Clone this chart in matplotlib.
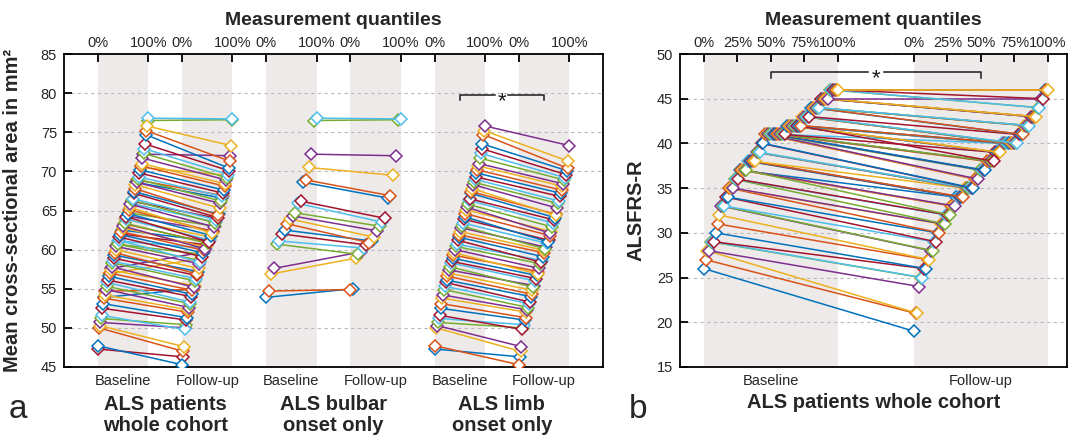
import matplotlib
matplotlib.use('Agg')
import matplotlib.pyplot as plt
import numpy as np
from matplotlib.transforms import blended_transform_factory

plt.rcParams['font.family'] = ['Liberation Sans', 'DejaVu Sans']

# ---------------- data ----------------
# Mean cross-sectional area (mm^2), bulbar onset patients
bulbar_base = [53.9, 54.7, 56.9, 57.6, 60.7, 61.1, 62.0, 62.5, 63.3, 63.9,
               64.3, 64.7, 65.9, 66.2, 68.6, 68.9, 70.5, 72.2, 76.5, 76.8]
bulbar_fu = [55.0, 54.9, 58.9, 59.7, 59.4, 60.2, 60.6, 61.1, 60.9, 61.6,
             62.4, 63.0, 63.5, 64.0, 66.6, 66.9, 69.5, 72.0, 76.6, 76.7]

# limb onset patients
limb_base = [47.3, 47.7, 50.0, 50.3, 50.7, 51.2, 51.6, 52.5, 53.1, 53.8,
             54.2, 54.9, 55.3, 55.8, 56.1, 56.6, 57.0, 57.4, 57.8, 58.3,
             58.5, 58.9, 59.3, 59.6, 60.0, 60.4, 60.7, 61.2, 61.6, 61.9,
             62.3, 62.8, 63.0, 63.4, 63.9, 64.2, 64.6, 65.1, 65.4, 65.8,
             66.3, 66.5, 67.2, 67.4, 67.8, 68.3, 68.6, 69.0, 69.3, 69.8,
             70.2, 70.7, 71.0, 71.7, 72.3, 72.9, 73.5, 74.7, 75.2, 75.8]
limb_fu = [46.3, 45.3, 47.0, 47.6, 50.0, 50.4, 49.8, 51.0, 51.3, 52.0,
           52.3, 52.6, 53.1, 53.3, 54.0, 54.3, 54.8, 55.4, 55.2, 56.0,
           56.3, 56.7, 57.2, 56.9, 57.6, 58.2, 58.6, 58.4, 59.1, 59.6,
           59.9, 60.3, 60.1, 60.8, 61.2, 61.0, 61.8, 62.3, 62.1, 62.9,
           63.4, 63.8, 64.1, 64.5, 64.4, 65.3, 65.9, 66.2, 66.8, 67.2,
           67.6, 68.1, 68.4, 68.9, 69.2, 69.6, 70.1, 70.4, 71.3, 73.3]

# ALSFRS-R, whole cohort
alsfrs_base = [26, 27, 28, 28, 29, 29, 29, 30, 31, 32,
               33, 33, 33, 34, 34, 35, 35, 35, 36, 36,
               36, 37, 37, 37, 37, 37, 38, 38, 38, 38,
               38, 39, 39, 39, 40, 40, 41, 41, 41, 41,
               41, 41, 41, 41, 41, 41, 41, 41, 41, 42,
               42, 42, 42, 42, 42, 42, 42, 42, 43, 43,
               43, 43, 43, 44, 44, 44, 44, 44, 44, 45,
               45, 45, 45, 45, 46, 46, 46, 46, 46, 46]
alsfrs_fu = [19, 21, 21, 24, 25, 25, 26, 26, 27, 27,
             28, 28, 29, 29, 30, 30, 31, 31, 31, 32,
             32, 34, 33, 33, 33, 32, 34, 34, 34, 34,
             35, 35, 35, 35, 35, 35, 36, 36, 36, 37,
             37, 37, 37, 38, 38, 38, 38, 40, 39, 39,
             39, 39, 40, 40, 40, 38, 40, 40, 40, 40,
             40, 40, 41, 41, 41, 42, 42, 42, 42, 43,
             43, 43, 43, 45, 44, 44, 45, 46, 46, 46]

group_labels = ['ALS patients\nwhole cohort', 'ALS bulbar\nonset only', 'ALS limb\nonset only']
time_labels = ['Baseline', 'Follow-up']
left_ticks = ['0%', '100%']
right_ticks = ['0%', '25%', '50%', '75%', '100%']

whole_base = bulbar_base + limb_base
whole_fu = bulbar_fu + limb_fu

# ---------------- style ----------------
COLORS = ['#0072BD', '#D95319', '#EDB120', '#7E2F8E', '#77AC30', '#4DBEEE', '#A2142F']
SHADE = '#EEEAEA'
TXT = '#262626'
W, H = 1077, 437


def qpos(values, start):
    v = np.asarray(values, dtype=float)
    n = len(v)
    order = np.argsort(v, kind='stable')
    ranks = np.empty(n)
    ranks[order] = np.arange(n)
    return start + ranks / (n - 1)


def draw_pairs(ax, b, f, sb, sf):
    xb = qpos(b, sb)
    xf = qpos(f, sf)
    for i in range(len(b)):
        c = COLORS[i % len(COLORS)]
        ax.plot([xb[i], xf[i]], [b[i], f[i]], '-', color=c, lw=1.1,
                marker='D', ms=6, mfc='white', mec=c, mew=1.1, zorder=3)


def style_axes(ax):
    for s in ax.spines.values():
        s.set_linewidth(1.3)
        s.set_color('black')
    ax.yaxis.grid(True, ls=(0, (3, 3)), color='#b8b8b8', lw=0.8)
    ax.set_axisbelow(True)
    ax.xaxis.tick_top()
    ax.xaxis.set_label_position('top')
    ax.tick_params(axis='x', which='both', direction='in', length=6, width=1.3,
                   pad=3, labelsize=10.5, labelcolor=TXT, color='black',
                   bottom=False, top=True)
    ax.tick_params(axis='y', direction='in', length=6, width=1.3, pad=5,
                   labelsize=10.5, labelcolor=TXT, color='black')


def bracket(ax, x0, x1, ym, yt, hg):
    mid = (x0 + x1) / 2
    ax.plot([x0, x0, mid - hg], [yt, ym, ym], color='#1a1a1a', lw=1.1, zorder=4)
    ax.plot([mid + hg, x1, x1], [ym, ym, yt], color='#1a1a1a', lw=1.1, zorder=4)
    ax.annotate('*', (mid, ym), xytext=(0, -8.5), textcoords='offset points',
                ha='center', va='baseline', fontsize=16, color='#1a1a1a')


fig = plt.figure(figsize=(W / 100, H / 100), dpi=100)

# ---------------- panel a ----------------
axL = fig.add_axes([64 / W, (H - 367) / H, 539 / W, 313 / H])
gap = 0.669
starts = [gap + k * (1 + gap) for k in range(6)]
for s in starts:
    axL.axvspan(s, s + 1, color=SHADE, lw=0, zorder=0)
groups = [(whole_base, whole_fu), (bulbar_base, bulbar_fu), (limb_base, limb_fu)]
for g, (b, f) in enumerate(groups):
    draw_pairs(axL, b, f, starts[2 * g], starts[2 * g + 1])
axL.set_xlim(0, 6 + 7 * gap)
axL.set_ylim(45, 85)
axL.set_yticks(range(45, 86, 5))
style_axes(axL)
ticks, labs = [], []
for s in starts:
    ticks += [s, s + 1]
    labs += left_ticks
axL.set_xticks(ticks)
axL.set_xticklabels(labs)
axL.set_xlabel('Measurement quantiles', fontsize=14, fontweight='bold', color=TXT, labelpad=8)
axL.set_ylabel('Mean cross-sectional area in mm²', fontsize=14.5, fontweight='bold', color=TXT)
axL.yaxis.set_label_coords(-0.077, 0.5)
trL = blended_transform_factory(axL.transData, axL.transAxes)
for k, s in enumerate(starts):
    axL.text(s + 0.5, -0.045, time_labels[k % 2], transform=trL, ha='center', va='center',
             fontsize=10.5, color=TXT)
for g in range(3):
    xc = (starts[2 * g] + starts[2 * g + 1] + 1) / 2
    axL.text(xc, -0.153, group_labels[g], transform=trL, ha='center', va='center',
             fontsize=14.5, fontweight='bold', color=TXT, linespacing=1.12)
bracket(axL, starts[4] + 0.5, starts[5] + 0.5, 79.7, 79.1, 0.13)

# ---------------- panel b ----------------
axR = fig.add_axes([680 / W, (H - 367) / H, 387 / W, 313 / H])
g2 = 1.567
startsR = [0.0, g2]
for s in startsR:
    axR.axvspan(s, s + 1, color=SHADE, lw=0, zorder=0)
draw_pairs(axR, alsfrs_base, alsfrs_fu, startsR[0], startsR[1])
axR.set_xlim(-0.179, 2.709)
axR.set_ylim(15, 50)
axR.set_yticks(range(15, 51, 5))
style_axes(axR)
ticksR, labsR = [], []
for s in startsR:
    ticksR += [s + q for q in (0, 0.25, 0.5, 0.75, 1.0)]
    labsR += right_ticks
axR.set_xticks(ticksR)
axR.set_xticklabels(labsR)
axR.set_xlabel('Measurement quantiles', fontsize=14, fontweight='bold', color=TXT, labelpad=8)
axR.set_ylabel('ALSFRS-R', fontsize=14.5, fontweight='bold', color=TXT)
axR.yaxis.set_label_coords(-0.09, 0.5)
trR = blended_transform_factory(axR.transData, axR.transAxes)
for k, s in enumerate(startsR):
    axR.text(s + 0.5, -0.045, time_labels[k], transform=trR, ha='center', va='center',
             fontsize=10.5, color=TXT)
axR.text(0.5, -0.115, 'ALS patients whole cohort', transform=axR.transAxes, ha='center',
         va='center', fontsize=14.5, fontweight='bold', color=TXT)
bracket(axR, 0.5, g2 + 0.5, 48.0, 47.3, 0.06)

# panel letters
fig.text(18 / W, (H - 410) / H, 'a', fontsize=24, ha='center', va='center', color=TXT)
fig.text(638 / W, (H - 410) / H, 'b', fontsize=24, ha='center', va='center', color=TXT)

fig.savefig('out.png', dpi=100)
